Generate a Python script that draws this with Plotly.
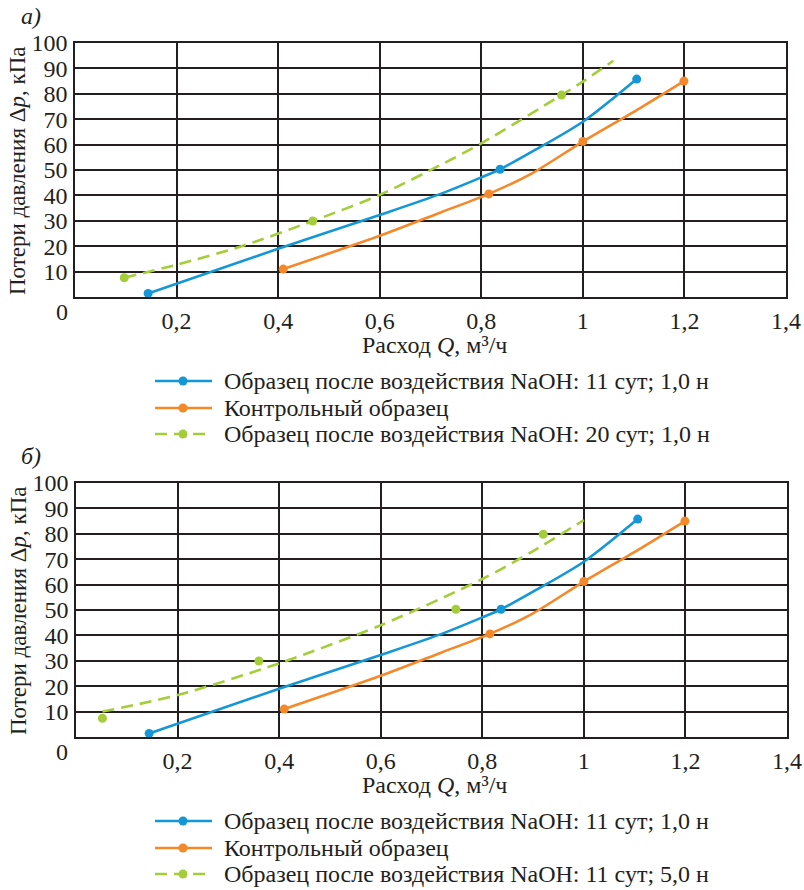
import plotly.graph_objects as go

# ---------------- data ----------------
# Panel a)
a_blue_pts_q = [0.144, 0.837, 1.106]
a_blue_pts_dp = [1.4, 50.3, 85.8]
a_blue_curve_q = [0.144, 0.4, 0.6, 0.72, 0.8, 0.837, 0.9, 1.0, 1.106]
a_blue_curve_dp = [1.4, 19.0, 32.3, 40.6, 47.1, 50.3, 57.2, 69.0, 85.8]

a_orange_pts_q = [0.41, 0.815, 1.0, 1.199]
a_orange_pts_dp = [11.0, 40.6, 61.2, 85.0]
a_orange_curve_q = [0.41, 0.6, 0.72, 0.815, 0.9, 1.0, 1.112, 1.199]
a_orange_curve_dp = [11.0, 24.1, 33.3, 40.6, 48.7, 61.2, 74.3, 85.0]

a_green_pts_q = [0.097, 0.468, 0.958]
a_green_pts_dp = [7.6, 29.9, 79.5]
a_green_curve_q = [0.097, 0.2, 0.325, 0.468, 0.6, 0.72, 0.8, 0.958, 1.0, 1.06]
a_green_curve_dp = [7.6, 12.7, 19.8, 29.9, 40.2, 52.0, 60.5, 79.5, 84.8, 93.0]

# Panel б)
b_blue_pts_q = a_blue_pts_q
b_blue_pts_dp = a_blue_pts_dp
b_blue_curve_q = a_blue_curve_q
b_blue_curve_dp = a_blue_curve_dp

b_orange_pts_q = a_orange_pts_q
b_orange_pts_dp = a_orange_pts_dp
b_orange_curve_q = a_orange_curve_q
b_orange_curve_dp = a_orange_curve_dp

b_green_pts_q = [0.052, 0.36, 0.748, 0.92]
b_green_pts_dp = [7.4, 29.9, 50.3, 79.8]
b_green_curve_q = [0.052, 0.2, 0.4, 0.6, 0.8, 0.9, 1.0]
b_green_curve_dp = [10.0, 16.5, 29.0, 44.0, 62.2, 73.2, 85.4]

x_tickvals = [0.2, 0.4, 0.6, 0.8, 1.0, 1.2, 1.4]
x_ticktext = ["0,2", "0,4", "0,6", "0,8", "1", "1,2", "1,4"]
y_tickvals = [10, 20, 30, 40, 50, 60, 70, 80, 90, 100]
y_ticktext = [str(v) for v in y_tickvals]

legend_a = ["Образец после воздействия NaOH: 11 сут; 1,0 н",
            "Контрольный образец",
            "Образец после воздействия NaOH: 20 сут; 1,0 н"]
legend_b = ["Образец после воздействия NaOH: 11 сут; 1,0 н",
            "Контрольный образец",
            "Образец после воздействия NaOH: 11 сут; 5,0 н"]

# ---------------- style ----------------
W, H = 804, 890
FONT = "Liberation Serif"
TXT = "#231f20"
BLUE = "#1497d6"
ORANGE = "#f5892a"
GREEN = "#a5cd3a"
GRID = "#231f20"
DASH = "12px,7px"
FS = 24


def px(x):
    return x / W


def py(y):
    return 1 - y / H


fig = go.Figure()

panels = [
    ("x", "y",
     (a_blue_curve_q, a_blue_curve_dp, a_blue_pts_q, a_blue_pts_dp),
     (a_orange_curve_q, a_orange_curve_dp, a_orange_pts_q, a_orange_pts_dp),
     (a_green_curve_q, a_green_curve_dp, a_green_pts_q, a_green_pts_dp)),
    ("x2", "y2",
     (b_blue_curve_q, b_blue_curve_dp, b_blue_pts_q, b_blue_pts_dp),
     (b_orange_curve_q, b_orange_curve_dp, b_orange_pts_q, b_orange_pts_dp),
     (b_green_curve_q, b_green_curve_dp, b_green_pts_q, b_green_pts_dp)),
]

for xa, ya, blue, orange, green in panels:
    for (cq, cdp, pq, pdp), col, dash in [(orange, ORANGE, "solid"),
                                         (blue, BLUE, "solid"),
                                         (green, GREEN, DASH)]:
        fig.add_trace(go.Scatter(x=cq, y=cdp, mode="lines", xaxis=xa, yaxis=ya,
                                 line=dict(color=col, width=2.6, dash=dash,
                                           shape="spline", smoothing=0.8),
                                 showlegend=False, hoverinfo="skip"))
        fig.add_trace(go.Scatter(x=pq, y=pdp, mode="markers", xaxis=xa, yaxis=ya,
                                 marker=dict(color=col, size=9, line=dict(width=0)),
                                 showlegend=False))

axis_common = dict(
    showgrid=True, gridcolor=GRID, gridwidth=1.6,
    showline=True, linecolor=GRID, linewidth=1.6, mirror=True,
    zeroline=False, ticks="", automargin=False,
    tickfont=dict(family=FONT, size=FS, color=TXT),
    fixedrange=True,
)

fig.update_layout(
    width=W, height=H, autosize=False,
    margin=dict(l=0, r=0, t=0, b=0, pad=0),
    paper_bgcolor="white", plot_bgcolor="white",
    font=dict(family=FONT, size=FS, color=TXT),
    showlegend=False,
    xaxis=dict(domain=[px(75), px(786)], range=[0, 1.4], anchor="y",
               tickvals=x_tickvals, ticktext=x_ticktext, ticklabelstandoff=1,
               **axis_common),
    yaxis=dict(domain=[py(297), py(43)], range=[0, 100], anchor="x",
               tickvals=y_tickvals, ticktext=y_ticktext, ticklabelstandoff=1,
               **axis_common),
    xaxis2=dict(domain=[px(76), px(787)], range=[0, 1.4], anchor="y2",
                tickvals=x_tickvals, ticktext=x_ticktext, ticklabelstandoff=1,
                **axis_common),
    yaxis2=dict(domain=[py(737), py(483)], range=[0, 100], anchor="x2",
                tickvals=y_tickvals, ticktext=y_ticktext, ticklabelstandoff=1,
                **axis_common),
)

annotations = []
shapes = []

for top, label, legend_items in [(0, "<i>а)</i>", legend_a), (440, "<i>б)</i>", legend_b)]:
    # panel label
    annotations.append(dict(x=px(31), y=py(top + 16), xref="paper", yref="paper",
                            text=label, showarrow=False, xanchor="center", yanchor="middle",
                            font=dict(family=FONT, size=FS, color=TXT)))
    # "0" corner label
    annotations.append(dict(x=px(62), y=py(top + 312), xref="paper", yref="paper",
                            text="0", showarrow=False, xanchor="center", yanchor="middle",
                            font=dict(family=FONT, size=FS, color=TXT)))
    # y axis title
    annotations.append(dict(x=px(18), y=py(top + 171), xref="paper", yref="paper",
                            text="Потери давления Δ<i>p</i>, кПа", textangle=-90,
                            showarrow=False, xanchor="center", yanchor="middle",
                            font=dict(family=FONT, size=23, color=TXT)))
    # x axis title
    annotations.append(dict(x=px(434), y=py(top + 345), xref="paper", yref="paper",
                            text="Расход <i>Q</i>, м³/ч",
                            showarrow=False, xanchor="center", yanchor="middle",
                            font=dict(family=FONT, size=FS, color=TXT)))
    # custom legend
    rows = [top + 381, top + 408, top + 434]
    for (row, text, col, dash) in zip(rows, legend_items,
                                      [BLUE, ORANGE, GREEN],
                                      ["solid", "solid", "dash"]):
        shapes.append(dict(type="line", xref="paper", yref="paper",
                           x0=px(155), x1=px(212), y0=py(row), y1=py(row),
                           line=dict(color=col, width=2.6,
                                     dash=("solid" if dash == "solid" else DASH))))
        r = 4.5
        shapes.append(dict(type="circle", xref="paper", yref="paper",
                           x0=px(183 - r), x1=px(183 + r), y0=py(row + r), y1=py(row - r),
                           fillcolor=col, line=dict(width=0)))
        annotations.append(dict(x=px(222), y=py(row), xref="paper", yref="paper",
                                text=text, showarrow=False, xanchor="left", yanchor="middle",
                                font=dict(family=FONT, size=FS, color=TXT)))

fig.update_layout(annotations=annotations, shapes=shapes)

# remove the default 8px page margin so the 804x890 figure fills the window exactly
fig.write_html(
    "out.html",
    config={"displayModeBar": False},
    post_script="document.body.style.margin='0px';document.body.style.overflow='hidden';",
)
